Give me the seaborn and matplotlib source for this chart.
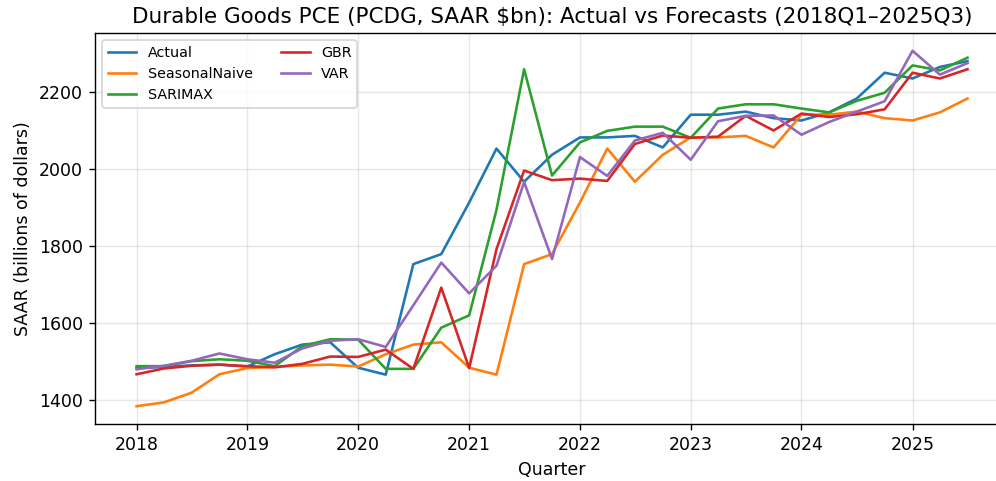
import matplotlib
matplotlib.use("Agg")
import matplotlib.pyplot as plt
import matplotlib.dates as mdates
import numpy as np
import pandas as pd
import seaborn as sns

# Quarterly durable goods PCE (SAAR, $bn), 2018Q1 .. 2025Q3
quarters = pd.period_range("2018Q1", "2025Q3", freq="Q").to_timestamp()

actual = [1484, 1487, 1491, 1493, 1488, 1520, 1545, 1551,
          1485, 1467, 1754, 1780, 1914, 2054, 1968, 2038,
          2083, 2083, 2087, 2057, 2142, 2142, 2150, 2133,
          2127, 2148, 2184, 2251, 2236, 2266, 2281]
seasonal_naive = [1385, 1395, 1420, 1468, 1484, 1487, 1491, 1493,
                  1488, 1520, 1545, 1551, 1485, 1467, 1754, 1780,
                  1914, 2054, 1968, 2038, 2083, 2083, 2087, 2057,
                  2142, 2142, 2150, 2133, 2127, 2148, 2184]
sarimax = [1489, 1489, 1502, 1507, 1503, 1489, 1541, 1559,
           1558, 1482, 1482, 1589, 1621, 1895, 2260, 1984,
           2070, 2100, 2111, 2111, 2082, 2158, 2169, 2169,
           2158, 2148, 2178, 2199, 2270, 2257, 2290]
gbr = [1468, 1483, 1490, 1493, 1489, 1486, 1495, 1514,
       1513, 1532, 1482, 1693, 1484, 1793, 1997, 1972,
       1976, 1970, 2066, 2088, 2082, 2085, 2139, 2101,
       2145, 2136, 2143, 2156, 2251, 2236, 2260]
var = [1481, 1490, 1503, 1522, 1507, 1498, 1535, 1555,
       1559, 1539, 1647, 1758, 1678, 1750, 1967, 1767,
       2032, 1983, 2075, 2095, 2025, 2125, 2139, 2140,
       2090, 2123, 2150, 2177, 2308, 2246, 2276]

series_names = ["Actual", "SeasonalNaive", "SARIMAX", "GBR", "VAR"]
series_values = [actual, seasonal_naive, sarimax, gbr, var]
colors = ["#1f77b4", "#ff7f0e", "#2ca02c", "#d62728", "#9467bd"]

df = pd.concat(
    [pd.DataFrame({"Quarter": quarters, "Value": vals, "Model": name})
     for name, vals in zip(series_names, series_values)],
    ignore_index=True,
)

plt.rcParams["font.family"] = ["DejaVu Sans"]
plt.rcParams["font.size"] = 10

fig = plt.figure(figsize=(7.968, 3.848), dpi=125)
ax = fig.add_axes([0.0954, 0.1185, 0.9177, 0.8129])

sns.lineplot(data=df, x="Quarter", y="Value", hue="Model",
             hue_order=series_names, palette=dict(zip(series_names, colors)),
             linewidth=1.5, ax=ax)

ax.xaxis.set_major_locator(mdates.YearLocator())
ax.xaxis.set_major_formatter(mdates.DateFormatter("%Y"))
ax.set_yticks([1400, 1600, 1800, 2000, 2200])

ax.grid(True, alpha=0.3)
ax.set_xlabel("Quarter")
ax.set_ylabel("SAAR (billions of dollars)")
ax.set_title("Durable Goods PCE (PCDG, SAAR $bn): Actual vs Forecasts (2018Q1\u20132025Q3)",
             fontsize=12.4)

handles, labels = ax.get_legend_handles_labels()
ax.legend(handles, labels, loc="upper left", ncol=2, fontsize=8.2)

fig.savefig("out.png", dpi=125)
